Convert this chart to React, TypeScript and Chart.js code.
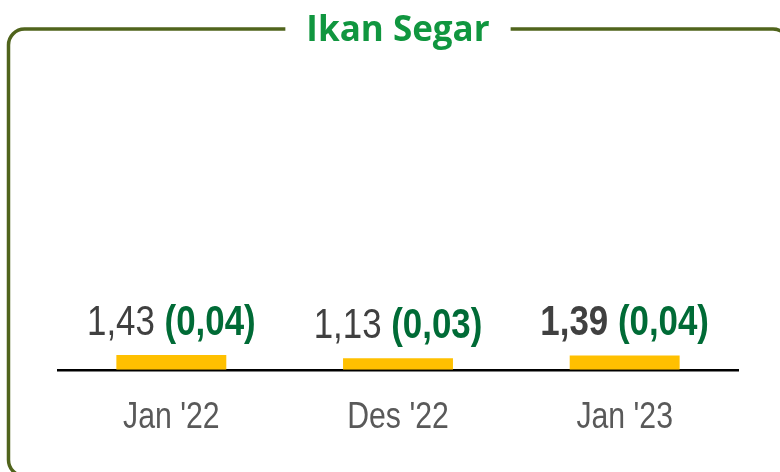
import React, { useEffect, useRef } from "react";
import { Chart, registerables } from "chart.js";

Chart.register(...registerables);

const title = "Ikan Segar";
const categories = ["Jan '22", "Des '22", "Jan '23"];
const values = [1.43, 1.13, 1.39];
const changes = [0.04, 0.03, 0.04];
const currentIndex = 2;

const fmt = (v: number) => v.toFixed(2).replace(".", ",");

const SANS = "'Liberation Sans', Arial, sans-serif";
const TITLE_FONT = "'Open Sans', sans-serif";
const TITLE_SIZE = 35;
const NARROW_X = 0.83;
const TICK_SIZE = 36;
const TICK_PAD = 27;

const frameColor = "#50641C";
const titleColor = "#10963F";
const valueColor = "#404040";
const changeColor = "#006B36";
const tickColor = "#595959";
const barColor = "#FFC000";

const framePlugin = {
  id: "frame",
  beforeDraw(chart: any) {
    const ctx = chart.ctx;
    ctx.save();
    ctx.font = `700 ${TITLE_SIZE}px ${TITLE_FONT}`;
    const tw = ctx.measureText(title).width;
    const area = chart.chartArea;
    const cx = (area.left + area.right) / 2;
    const left = 8.5, top = 29, right = 789, bottom = 476, r = 16;
    const gl = cx - tw / 2 - 21;
    const gr = cx + tw / 2 + 21;
    ctx.strokeStyle = frameColor;
    ctx.lineWidth = 3.5;
    ctx.beginPath();
    ctx.moveTo(gr, top);
    ctx.arcTo(right, top, right, bottom, r);
    ctx.arcTo(right, bottom, left, bottom, r);
    ctx.arcTo(left, bottom, left, top, r);
    ctx.arcTo(left, top, gl, top, r);
    ctx.lineTo(gl, top);
    ctx.stroke();
    ctx.restore();
  },
};

const labelPlugin = {
  id: "barLabels",
  afterDatasetsDraw(chart: any) {
    const ctx = chart.ctx;
    const meta = chart.getDatasetMeta(0);
    ctx.save();
    ctx.textBaseline = "alphabetic";
    ctx.textAlign = "left";
    meta.data.forEach((bar: any, i: number) => {
      const parts = [
        { text: fmt(values[i]) + " ", bold: i === currentIndex, color: valueColor },
        { text: "(" + fmt(changes[i]) + ")", bold: true, color: changeColor },
      ];
      let total = 0;
      const widths = parts.map((p) => {
        ctx.font = `${p.bold ? 700 : 400} 42px ${SANS}`;
        const w = ctx.measureText(p.text).width;
        total += w;
        return w;
      });
      ctx.save();
      ctx.translate(bar.x, bar.y - 20);
      ctx.scale(NARROW_X, 1);
      let x = -total / 2;
      parts.forEach((p, k) => {
        ctx.font = `${p.bold ? 700 : 400} 42px ${SANS}`;
        ctx.fillStyle = p.color;
        ctx.fillText(p.text, x, 0);
        x += widths[k];
      });
      ctx.restore();
    });
    ctx.restore();
  },
};

const tickPlugin = {
  id: "narrowTicks",
  afterDraw(chart: any) {
    const s = chart.scales.x;
    const ctx = chart.ctx;
    ctx.save();
    ctx.font = `400 ${TICK_SIZE}px ${SANS}`;
    ctx.fillStyle = tickColor;
    ctx.textAlign = "center";
    ctx.textBaseline = "middle";
    s.ticks.forEach((t: any, i: number) => {
      const x = s.getPixelForTick(i);
      const y = s.top + TICK_PAD + (TICK_SIZE * 1.2) / 2;
      ctx.save();
      ctx.translate(x, y);
      ctx.scale(0.84, 1);
      ctx.fillText(s.getLabelForValue(t.value), 0, 0);
      ctx.restore();
    });
    ctx.restore();
  },
};

export default function App() {
  const ref = useRef<HTMLCanvasElement | null>(null);
  useEffect(() => {
    if (!ref.current) return;
    const chart = new Chart(ref.current, {
      type: "bar",
      data: {
        labels: categories,
        datasets: [
          {
            data: values,
            backgroundColor: barColor,
            borderWidth: 0,
            categoryPercentage: 1,
            barPercentage: 0.485,
          },
        ],
      },
      options: {
        responsive: false,
        animation: false,
        layout: { padding: { left: 58, right: 42, top: 0, bottom: 5 } },
        plugins: {
          legend: { display: false },
          tooltip: { enabled: false },
          title: {
            display: true,
            text: title,
            color: titleColor,
            font: { family: TITLE_FONT, size: TITLE_SIZE, weight: 700, lineHeight: 1.2 },
            padding: { top: 10, bottom: 8 },
          },
        },
        scales: {
          x: {
            grid: { display: false, drawTicks: false },
            border: { display: true, color: "#000000", width: 2.5 },
            ticks: {
              color: "rgba(0,0,0,0)",
              padding: TICK_PAD,
              font: { family: SANS, size: TICK_SIZE, lineHeight: 1.2 },
            },
          },
          y: {
            display: false,
            min: 0,
            max: 30,
          },
        },
      },
      plugins: [framePlugin, labelPlugin, tickPlugin],
    });
    return () => chart.destroy();
  }, []);
  return (
    <div style={{ position: "fixed", left: 0, top: 0, width: 780, height: 472, background: "#fff" }}>
      <canvas ref={ref} width={780} height={472} style={{ width: 780, height: 472, display: "block" }} />
    </div>
  );
}
